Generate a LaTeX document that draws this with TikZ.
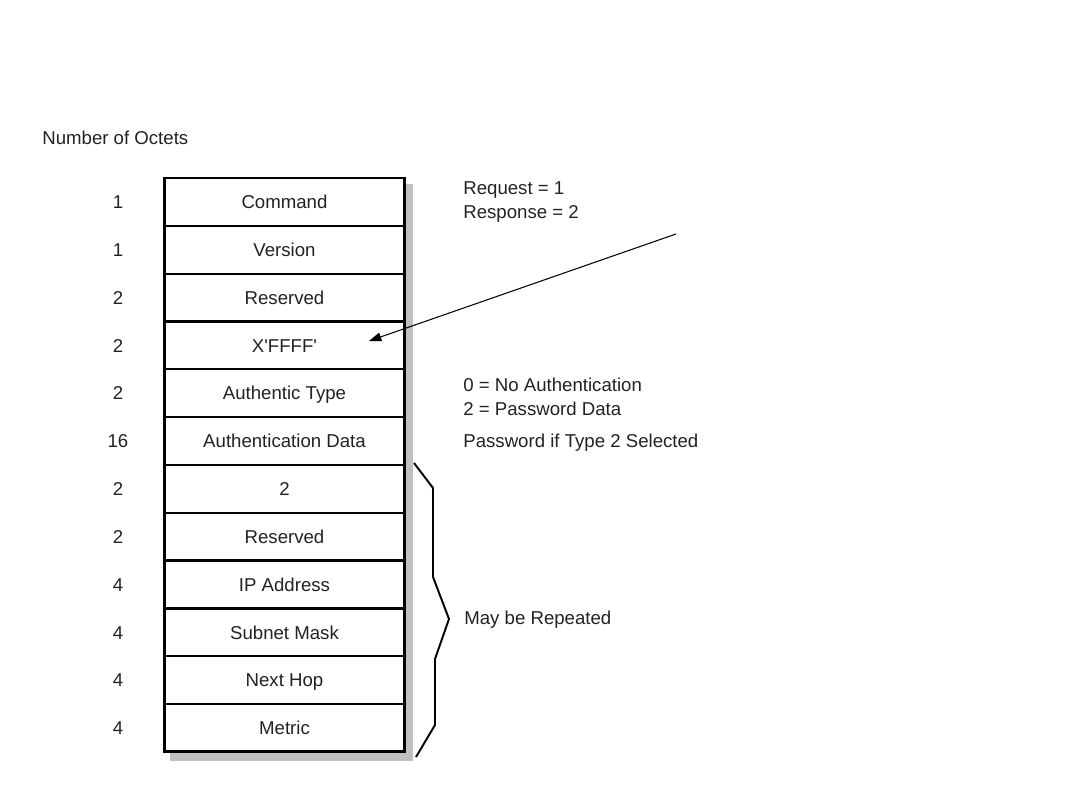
\documentclass[tikz,border=0pt]{standalone}
\usepackage{fontspec}
\setmainfont{Liberation Sans}
\usetikzlibrary{arrows.meta,positioning}
\definecolor{shadowgray}{HTML}{C0C0C0}
\definecolor{ink}{HTML}{222222}
\newcommand{\ripfont}{\fontsize{10.6}{12.8}\selectfont}

\begin{document}
\begin{tikzpicture}[x=0.02cm,y=-0.02cm,
  field/.style={draw,line width=1.3pt,minimum width=4.82cm,minimum height=0.9566cm,
    inner sep=0pt,outer sep=0pt,font=\ripfont,text=ink,text height=7.6pt,text depth=0pt},
  octet/.style={font=\ripfont,text=ink,text height=7.6pt,text depth=0pt,inner sep=0pt},
  note/.style={font=\ripfont,text=ink,anchor=west,align=left,inner sep=0pt}]
  \useasboundingbox (0,0) rectangle (1080,810);

  % Shadow behind the packet
  \fill[shadowgray] (170,184) rectangle (413,761);
  \fill[white] (164,178) rectangle (405,752);

  % Packet fields with their octet counts
  \foreach \name/\label/\oct [count=\i] in {cmd/Command/1, ver/Version/1, resa/Reserved/2,
      xffff/X\textquotesingle FFFF\textquotesingle/2, atype/Authentic Type/2,
      adata/Authentication Data/16, afi/2/2, resb/Reserved/2, ip/IP Address/4,
      mask/Subnet Mask/4, hop/Next Hop/4, metric/Metric/4} {
    \node[field] (\name) at (284.5,{178+47.83*(\i-0.5)}) {\label};
    \node[octet] (n\name) at (118,{178+47.83*(\i-0.5)}) {\oct};
  }
  \draw[line width=1.7pt] (cmd.north west) rectangle (metric.south east);

  \node[note,anchor=west] (ohead) at (42,138) {Number of Octets};

  % Notes on the right
  \node[note] (cmdnote) at (463,202) {Request = 1\\[0.8pt]Response = 2};
  \node[note] (typenote) at (463,397) {0 = No Authentication\\[0.8pt]2 = Password Data};
  \node[note] (datanote) at (463,443) {Password if Type 2 Selected};
  \node[note] (repnote) at (464,620) {May be Repeated};

  % Arrow pointing at X'FFFF'
  \coordinate (tail) at (676,234);
  \coordinate (tip) at (369,341);
  \draw[line width=0.6pt,-{Triangle[length=7pt,width=5pt]}] (tail) -- (tip);

  % Brace over the repeated entries
  \draw[line width=1.1pt] (414,463) -- (433,488) -- (433,577) -- (449,619)
    -- (435,659) -- (435,725) -- (416,757);
\end{tikzpicture}
\end{document}
